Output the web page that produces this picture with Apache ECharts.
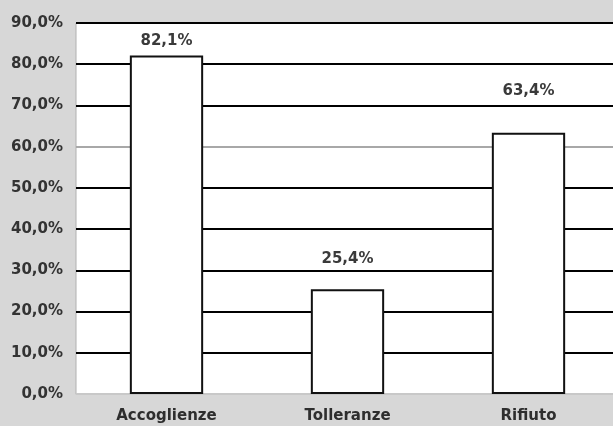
<!DOCTYPE html>
<html>
<head>
<meta charset="utf-8">
<script src="https://cdn.jsdelivr.net/npm/echarts@6/dist/echarts.min.js"></script>
<style>
  html, body { margin: 0; padding: 0; background: #d7d7d7; }
  #chart { width: 613px; height: 426px; }
</style>
</head>
<body>
<div id="chart"></div>
<script>
// Categories and percentages
const categories = ['Accoglienze', 'Tolleranze', 'Rifiuto'];
const values = [82.1, 25.4, 63.4];
const valueLabels = ['82,1%', '25,4%', '63,4%'];
// Y axis tick labels, 0% to 90% in steps of 10
const yTickLabels = ['0,0%', '10,0%', '20,0%', '30,0%', '40,0%', '50,0%', '60,0%', '70,0%', '80,0%', '90,0%'];

// Distance of each value label above its bar
const labelGaps = [7, 23, 34];
// Gridline colours per tick (60% line is lighter)
const gridColors = ['#c8c8c8', '#000', '#000', '#000', '#000', '#000', '#a8a8a8', '#000', '#000', '#000'];

const chart = echarts.init(document.getElementById('chart'), null, { renderer: 'canvas' });

const font = { fontFamily: 'DejaVu Sans, sans-serif', fontWeight: 'bold', fontSize: 15 };

chart.setOption({
  backgroundColor: '#d7d7d7',
  animation: false,
  textStyle: { fontFamily: 'DejaVu Sans, sans-serif' },
  grid: {
    left: 76, top: 23, width: 543, height: 371,
    outerBoundsMode: 'none',
    show: true, backgroundColor: '#ffffff', borderColor: '#b0b0b0', borderWidth: 1
  },
  xAxis: {
    type: 'category',
    data: categories,
    axisLine: { show: true, lineStyle: { color: '#c8c8c8', width: 1 } },
    axisTick: { show: false },
    axisLabel: Object.assign({ color: '#2e2e2e', margin: 15 }, font)
  },
  yAxis: {
    type: 'value',
    min: 0, max: 90, interval: 10,
    axisLine: { show: false },
    axisTick: { show: false },
    axisLabel: Object.assign({
      color: '#333', margin: 13,
      formatter: v => yTickLabels[Math.round(v / 10)]
    }, font),
    splitLine: { show: true, lineStyle: { color: gridColors, width: 2 } }
  },
  series: [{
    type: 'bar',
    barWidth: '40.5%',
    data: values.map((v, i) => ({
      value: v,
      label: { distance: labelGaps[i], formatter: valueLabels[i] }
    })),
    itemStyle: { color: '#ffffff', borderColor: '#111', borderWidth: 2 },
    label: Object.assign({ show: true, position: 'top', color: '#3a3a3a' }, font)
  }]
});
</script>
</body>
</html>
